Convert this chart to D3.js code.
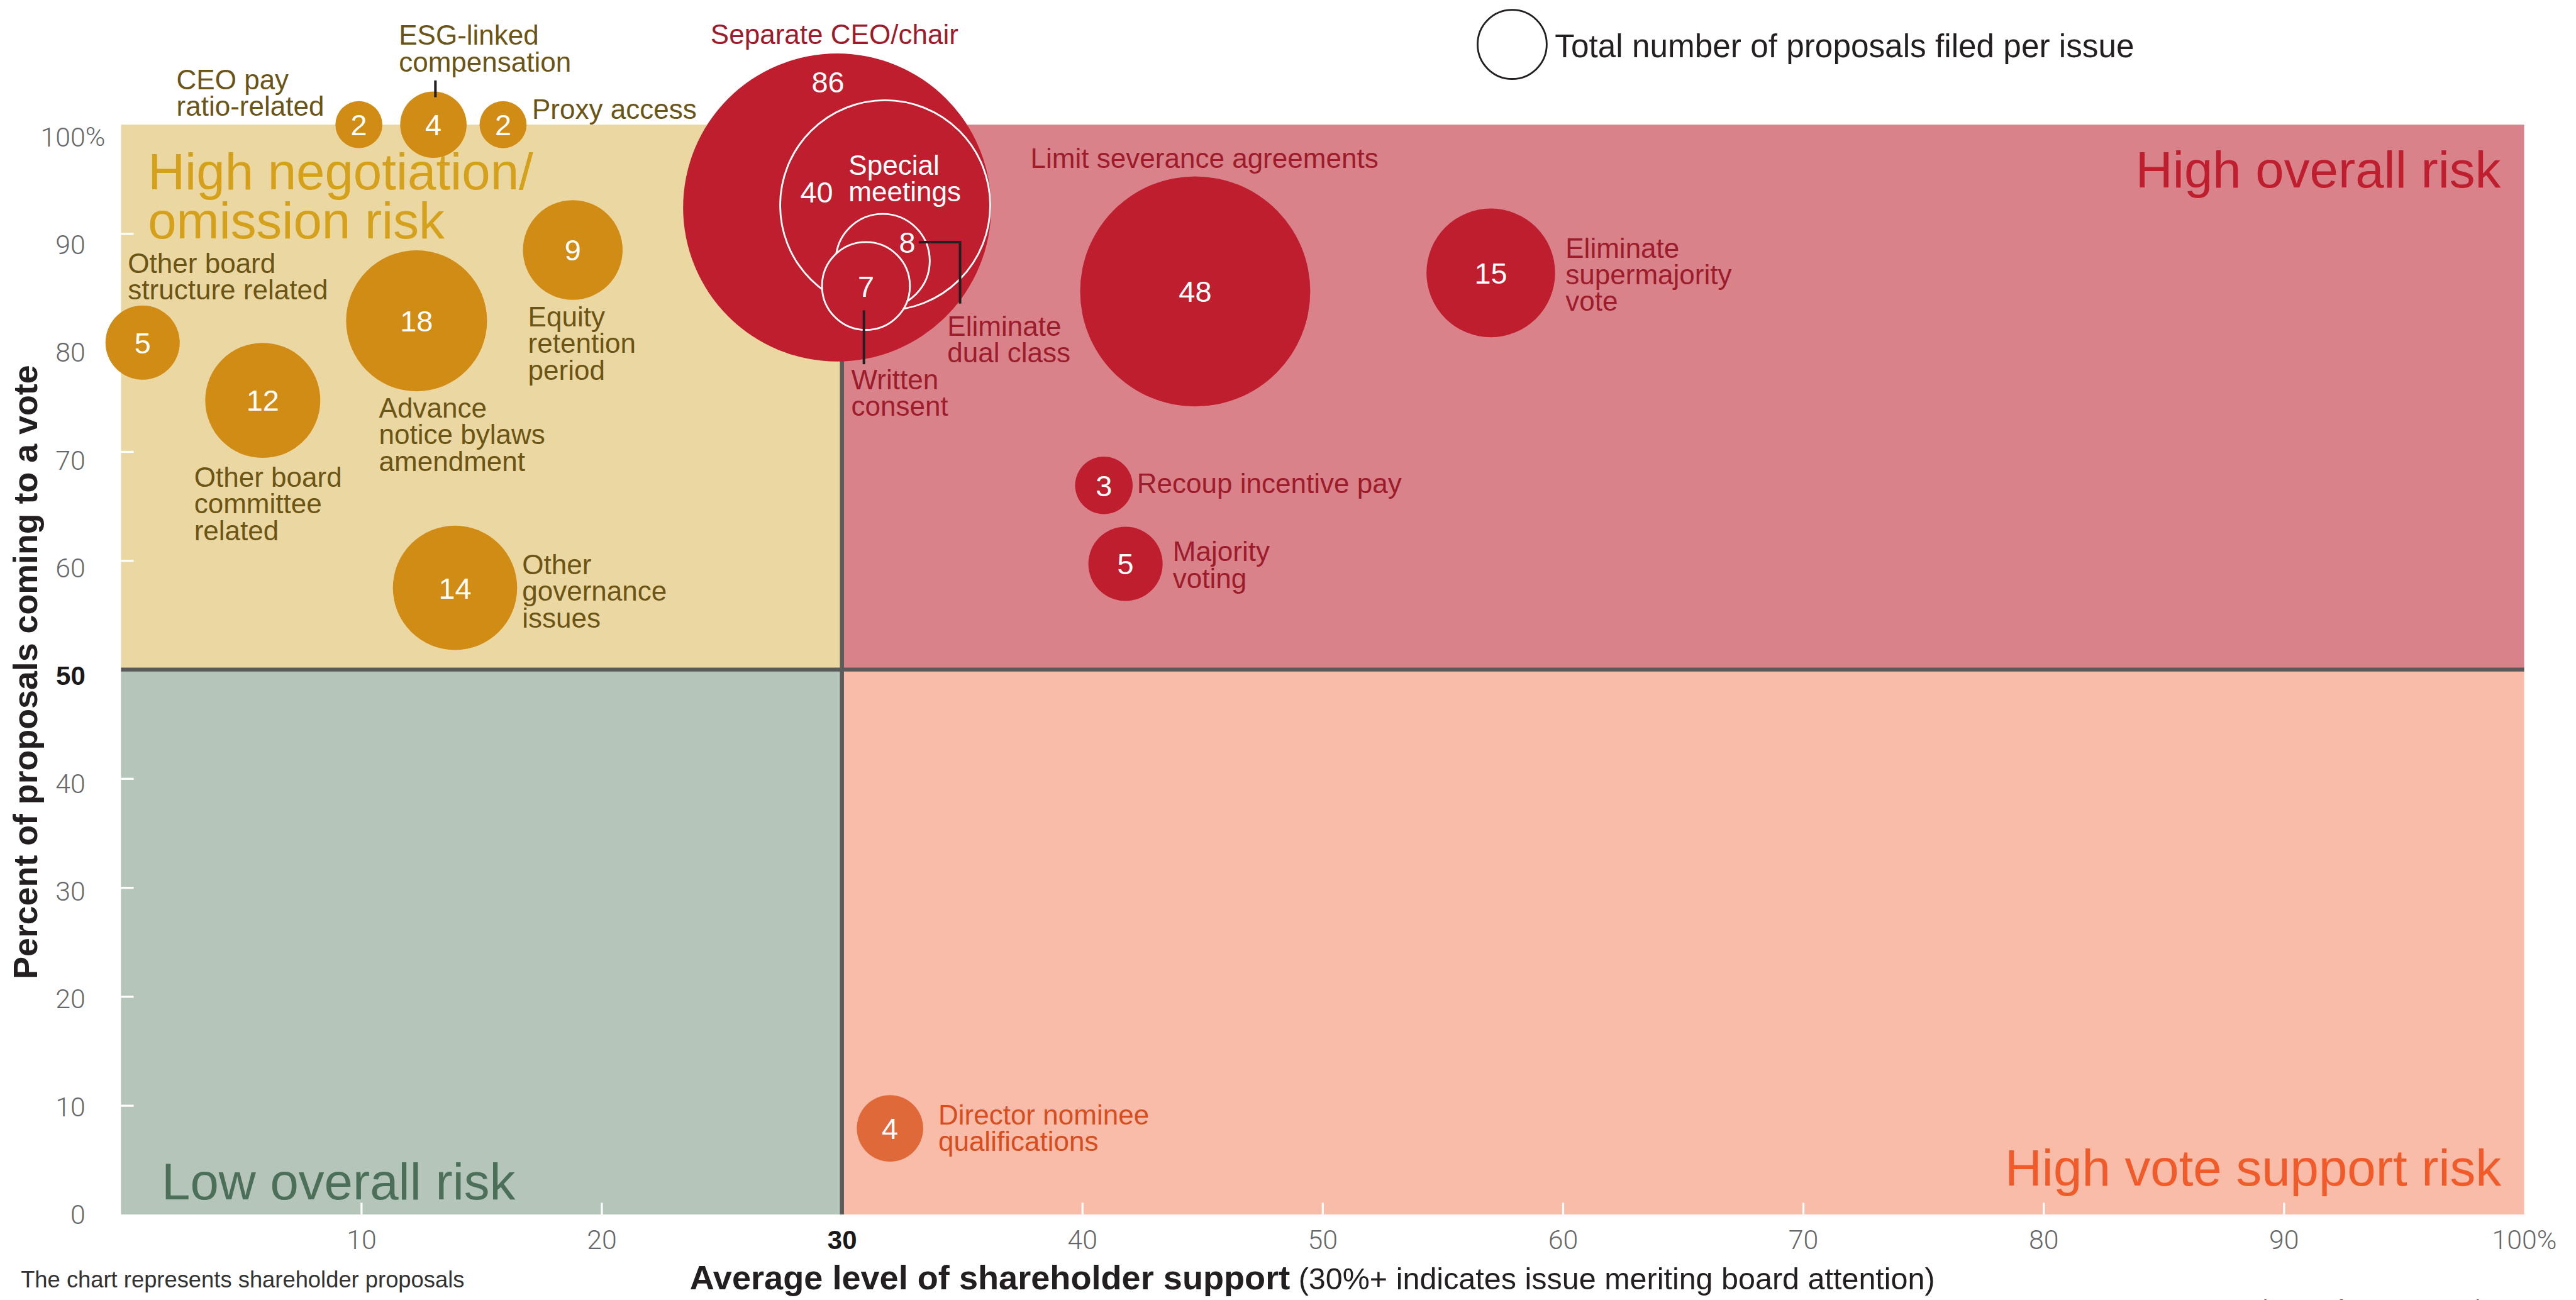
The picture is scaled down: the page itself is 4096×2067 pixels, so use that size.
<!DOCTYPE html>
<html><head><meta charset="utf-8">
<script src="https://cdn.jsdelivr.net/npm/d3@7"></script>
<style>html,body{margin:0;padding:0;background:#fff;overflow:hidden}</style>
</head><body>
<svg id="chart" width="4096" height="2067" viewBox="0 0 5068 2557"></svg>
<script>
// ---------------- DATA ----------------
const issues = ["CEO pay ratio-related","ESG-linked compensation","Proxy access","Other board structure related","Advance notice bylaws amendment","Equity retention period","Other board committee related","Other governance issues","Separate CEO/chair","Special meetings","Eliminate dual class","Written consent","Limit severance agreements","Eliminate supermajority vote","Recoup incentive pay","Majority voting","Director nominee qualifications"];
const support   = [9.9, 13.0, 15.9, 0.9, 12.3, 18.8, 5.9, 13.9, 29.8, 31.8, 31.7, 31.0, 44.7, 57.0, 40.9, 41.8, 32.0];
const toVote    = [100, 100, 100, 80, 82, 88.5, 74.7, 57.5, 92.4, 92.6, 87.5, 85.2, 84.7, 86.4, 66.9, 59.7, 7.9];
const proposals = [2, 4, 2, 5, 18, 9, 12, 14, 86, 40, 8, 7, 48, 15, 3, 5, 4];
const riskGroup = ["neg","neg","neg","neg","neg","neg","neg","neg","overall","overall","overall","overall","overall","overall","overall","overall","vote"];
const labelLines = [["CEO pay","ratio-related"],["ESG-linked","compensation"],["Proxy access"],["Other board","structure related"],["Advance","notice bylaws","amendment"],["Equity","retention","period"],["Other board","committee","related"],["Other","governance","issues"],["Separate CEO/chair"],["Special","meetings"],["Eliminate","dual class"],["Written","consent"],["Limit severance agreements"],["Eliminate","supermajority","vote"],["Recoup incentive pay"],["Majority","voting"],["Director nominee","qualifications"]];
const xTickValues = [10, 20, 30, 40, 50, 60, 70, 80, 90, 100];
const yTickValues = [0, 10, 20, 30, 40, 50, 60, 70, 80, 90, 100];
const xThreshold = 30, yThreshold = 50;
const quadrantNames = ["High negotiation/\nomission risk","High overall risk","Low overall risk","High vote support risk"];

// ---------------- STYLE / LAYOUT ----------------
const FONT = "'Liberation Sans', Arial, sans-serif";
const bubbleColor = {neg:"#D08C14", overall:"#BE1E2D", vote:"#E0693A"};
const textColor   = {neg:"#6B5516", overall:"#9D1C2C", vote:"#D84D1E"};
const quadFill = ["#EBD7A1", "#D9828A", "#B5C5BA", "#F8BCA9"];
const quadText = ["#D5A11B", "#BE1E2D", "#4B6F58", "#F15A29"];
const nested = new Set(["Special meetings","Eliminate dual class","Written consent"]);
const labelLayout = {
 "CEO pay ratio-related": {dx:-359, dy:-70},
 "ESG-linked compensation": {dx:-68, dy:-157, leader:[[4,-87],[4,-54]]},
 "Proxy access": {dx:57, dy:-11},
 "Other board structure related": {dx:-29, dy:-137},
 "Advance notice bylaws amendment": {dx:-74, dy:190},
 "Equity retention period": {dx:-88, dy:150},
 "Other board committee related": {dx:-135, dy:170},
 "Other governance issues": {dx:132, dy:-27},
 "Separate CEO/chair": {dx:-249, dy:-322, num:{dx:-18, dy:-247}},
 "Special meetings": {dx:-72, dy:-60, white:true, num:{dx:-167, dy:-6, start:true}},
 "Eliminate dual class": {dx:127, dy:147, num:{dx:48, dy:-37}, leader:[[71,-37],[152,-37],[152,84]]},
 "Written consent": {dx:-29, dy:203, leader:[[-4,48],[-4,154]]},
 "Limit severance agreements": {dx:-324, dy:-243},
 "Eliminate supermajority vote": {dx:147, dy:-30},
 "Recoup incentive pay": {dx:65, dy:15},
 "Majority voting": {dx:93, dy:-5},
 "Director nominee qualifications": {dx:95, dy:-8}
};

const svg = d3.select("#chart");
const L = 238, R = 4966, T = 245, B = 2389;
const x = d3.scaleLinear().domain([0, 100]).range([L, R]);
const y = d3.scaleLinear().domain([0, 100]).range([B, T]);
const yLab = d3.scaleLinear().domain([0, 100]).range([2388, 268]);
const r = d3.scaleSqrt().domain([0, 86]).range([0, 303]);

// quadrants
const quads = [
  {x0:0, x1:xThreshold, y0:yThreshold, y1:100},
  {x0:xThreshold, x1:100, y0:yThreshold, y1:100},
  {x0:0, x1:xThreshold, y0:0, y1:yThreshold},
  {x0:xThreshold, x1:100, y0:0, y1:yThreshold}
];
svg.append("g").selectAll("rect").data(quads).join("rect")
  .attr("x", d => x(d.x0)).attr("y", d => y(d.y1))
  .attr("width", d => x(d.x1) - x(d.x0)).attr("height", d => y(d.y0) - y(d.y1))
  .attr("fill", (d, i) => quadFill[i]);

// white tick marks inside plot
svg.append("g").attr("transform", `translate(${L},0)`)
  .call(d3.axisRight(y).tickValues(yTickValues.filter(v => v > 0 && v < 100)).tickSize(25).tickFormat(""))
  .call(g => g.select(".domain").remove())
  .call(g => g.selectAll("line").attr("stroke", "#fff").attr("stroke-width", 4));
svg.append("g").attr("transform", `translate(0,${B})`)
  .call(d3.axisTop(x).tickValues(xTickValues.filter(v => v < 100)).tickSize(23).tickFormat(""))
  .call(g => g.select(".domain").remove())
  .call(g => g.selectAll("line").attr("stroke", "#fff").attr("stroke-width", 4));

// dividing lines
svg.append("line").attr("x1", x(0)).attr("x2", x(100)).attr("y1", y(yThreshold)).attr("y2", y(yThreshold))
  .attr("stroke", "#5B5B5B").attr("stroke-width", 8);
svg.append("line").attr("x1", x(xThreshold)).attr("x2", x(xThreshold)).attr("y1", y(100)).attr("y2", y(0))
  .attr("stroke", "#5B5B5B").attr("stroke-width", 8);

// y tick labels
const yAx = svg.append("g").attr("transform", "translate(168,0)")
  .call(d3.axisLeft(yLab).tickValues(yTickValues).tickSize(0).tickPadding(0).tickFormat(d => d))
  .call(g => g.select(".domain").remove());
yAx.selectAll("text").attr("font-family", "Roboto, sans-serif").attr("font-weight", 300)
  .attr("font-size", 53).attr("fill", "#666769").attr("dy", "0.36em");
yAx.selectAll(".tick").filter(d => d === yThreshold).select("text")
  .attr("font-weight", 700).attr("fill", "#1a1a1a").attr("font-family", FONT).attr("font-size", 52);
svg.append("text").attr("x", 168).attr("y", yLab(100)).attr("dy", "0.36em").text("%")
  .attr("font-family", "Roboto, sans-serif").attr("font-weight", 300).attr("font-size", 53).attr("fill", "#666769");

// x tick labels
const xAx = svg.append("g").attr("transform", "translate(0,2419)")
  .call(d3.axisBottom(x).tickValues(xTickValues).tickSize(0).tickPadding(0).tickFormat(d => d === 100 ? "100%" : d))
  .call(g => g.select(".domain").remove());
xAx.selectAll("text").attr("font-family", "Roboto, sans-serif").attr("font-weight", 300)
  .attr("font-size", 53).attr("fill", "#666769").attr("dy", "0.72em");
xAx.selectAll(".tick").filter(d => d === xThreshold).select("text")
  .attr("font-weight", 700).attr("fill", "#1a1a1a").attr("font-family", FONT).attr("font-size", 52);

// quadrant labels
const qPos = [
  {x:291, y:372, anchor:"start"}, {x:4920, y:369, anchor:"end"},
  {x:318, y:2359, anchor:"start"}, {x:4921, y:2332, anchor:"end"}
];
quadrantNames.forEach((name, i) => {
  const t = svg.append("text").attr("x", qPos[i].x).attr("y", qPos[i].y)
    .attr("text-anchor", qPos[i].anchor).attr("font-family", FONT).attr("font-size", 101)
    .attr("fill", quadText[i]);
  name.split("\n").forEach((ln, j) => t.append("tspan").attr("x", qPos[i].x).attr("dy", j ? 97 : 0).text(ln));
});

// bubbles
const data = issues.map((name, i) => ({name, sx: support[i], vy: toVote[i], n: proposals[i], g: riskGroup[i], lines: labelLines[i]}));
const order = data.slice().sort((a, b) => b.n - a.n);
svg.append("g").selectAll("circle").data(order).join("circle")
  .attr("cx", d => x(d.sx)).attr("cy", d => y(d.vy)).attr("r", d => r(d.n))
  .attr("fill", d => bubbleColor[d.g])
  .attr("stroke", d => nested.has(d.name) ? "#fff" : "none")
  .attr("stroke-width", 3.5);

// numbers
const numG = svg.append("g");
data.forEach(d => {
  const lay = labelLayout[d.name], o = lay.num || {dx:0, dy:0};
  const t = numG.append("text").attr("x", x(d.sx) + o.dx).attr("y", y(d.vy) + o.dy)
    .attr("font-family", FONT).attr("font-size", 58).attr("fill", "#fff").text(d.n);
  if (o.start) t.attr("text-anchor", "start");
  else t.attr("text-anchor", "middle").attr("dy", "0.36em");
});

// leaders
data.forEach(d => {
  const lay = labelLayout[d.name];
  if (!lay.leader) return;
  svg.append("path")
    .attr("d", d3.line()(lay.leader.map(p => [x(d.sx) + p[0], y(d.vy) + p[1]])))
    .attr("fill", "none").attr("stroke", "#231F20").attr("stroke-width", 5);
});

// labels
data.forEach(d => {
  const lay = labelLayout[d.name];
  const lx = x(d.sx) + lay.dx, ly = y(d.vy) + lay.dy;
  const t = svg.append("text").attr("x", lx).attr("y", ly)
    .attr("font-family", FONT).attr("font-size", 54.5)
    .attr("fill", lay.white ? "#fff" : textColor[d.g]);
  d.lines.forEach((ln, j) => t.append("tspan").attr("x", lx).attr("dy", j ? 52.5 : 0).text(ln));
});

// legend
svg.append("circle").attr("cx", 2975).attr("cy", 87).attr("r", 68)
  .attr("fill", "#fff").attr("stroke", "#231F20").attr("stroke-width", 3.5);
svg.append("text").attr("x", 3059).attr("y", 112).attr("font-family", FONT).attr("font-size", 63.5)
  .attr("fill", "#231F20").text("Total number of proposals filed per issue");

// axis titles
svg.append("text").attr("transform", "translate(73,1322) rotate(-90)").attr("text-anchor", "middle")
  .attr("font-family", FONT).attr("font-weight", 700).attr("font-size", 66.5).attr("fill", "#231F20")
  .text("Percent of proposals coming to a vote");
const xt = svg.append("text").attr("x", 1357).attr("y", 2536).attr("font-family", FONT).attr("fill", "#231F20");
xt.append("tspan").attr("font-weight", 700).attr("font-size", 67).text("Average level of shareholder support");
xt.append("tspan").attr("font-size", 60).text(" (30%+ indicates issue meriting board attention)");

// notes
svg.append("text").attr("x", 41).attr("y", 2532).attr("font-family", FONT).attr("font-size", 45)
  .attr("fill", "#333").text("The chart represents shareholder proposals");
svg.append("text").attr("x", 4267).attr("y", 2589).attr("font-family", FONT).attr("font-size", 45)
  .attr("fill", "#444").text("© 2020 The Conference Board, Inc.");
</script>
</body></html>
